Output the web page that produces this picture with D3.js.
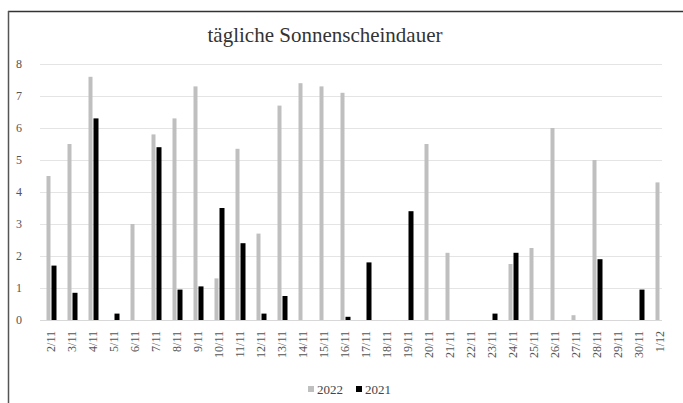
<!doctype html>
<html>
<head>
<meta charset="utf-8">
<style>
  body { margin: 0; background: #fff; }
  svg text { font-family: "Liberation Serif", "Times New Roman", "DejaVu Serif", serif !important; }
  .grid line { stroke: #e4e4e4; }
  .axis text { fill: #555; }
</style>
<script src="https://d3js.org/d3.v7.min.js"></script>
</head>
<body>
<script>

  var days = ["2/11","3/11","4/11","5/11","6/11","7/11","8/11","9/11","10/11","11/11",
              "12/11","13/11","14/11","15/11","16/11","17/11","18/11","19/11","20/11","21/11",
              "22/11","23/11","24/11","25/11","26/11","27/11","28/11","29/11","30/11","1/12"];
  var sun2022 = [4.5, 5.5, 7.6, 0, 3.0, 5.8, 6.3, 7.3, 1.3, 5.35,
                 2.7, 6.7, 7.4, 7.3, 7.1, 0, 0, 0, 5.5, 2.1,
                 0, 0, 1.75, 2.25, 6.0, 0.15, 5.0, 0, 0, 4.3];
  var sun2021 = [1.7, 0.85, 6.3, 0.2, 0, 5.4, 0.95, 1.05, 3.5, 2.4,
                 0.2, 0.75, 0, 0, 0.1, 1.8, 0, 3.4, 0, 0,
                 0, 0.2, 2.1, 0, 0, 0, 1.9, 0, 0.95, 0];
  var yTicks = [0, 1, 2, 3, 4, 5, 6, 7, 8];

  var W = 683, H = 403;

  var svg = d3.select("body").append("svg")
    .attr("width", W)
    .attr("height", H);

  // frame (top + left edge of the scan)
  svg.append("line").attr("x1", 8).attr("x2", W).attr("y1", 11.5).attr("y2", 11.5)
    .attr("stroke", "#333").attr("stroke-width", 1.5);
  svg.append("line").attr("x1", 8.5).attr("x2", 8.5).attr("y1", 11).attr("y2", H)
    .attr("stroke", "#555").attr("stroke-width", 1.5);

  var x = d3.scaleBand().domain(days).range([40.5, 670.5]).padding(0);
  var y = d3.scaleLinear().domain([0, 8]).range([320, 64]);

  svg.append("text")
    .attr("x", 325)
    .attr("y", 42)
    .attr("text-anchor", "middle")
    .attr("font-size", "21px")
    .attr("fill", "#333")
    .text("tägliche Sonnenscheindauer");

  // gridlines
  svg.append("g")
    .attr("class", "grid")
    .selectAll("line")
    .data(yTicks.slice(1))
    .enter().append("line")
    .attr("x1", 40).attr("x2", 662)
    .attr("y1", function(d) { return y(d) + 0.5; })
    .attr("y2", function(d) { return y(d) + 0.5; });

  svg.append("line")
    .attr("x1", 40).attr("x2", 662)
    .attr("y1", y(0) + 0.5).attr("y2", y(0) + 0.5)
    .attr("stroke", "#d8d8d8");

  // y labels
  var yAxis = svg.append("g")
    .attr("class", "axis")
    .attr("transform", "translate(22,0)")
    .call(d3.axisLeft(y).tickValues(yTicks).tickSize(0).tickPadding(0));
  yAxis.select(".domain").remove();
  yAxis.selectAll("text").attr("font-size", "12px");

  // x labels (rotated)
  var xAxis = svg.append("g")
    .attr("class", "axis")
    .attr("transform", "translate(0,331)")
    .call(d3.axisBottom(x).tickSize(0).tickPadding(0));
  xAxis.select(".domain").remove();
  xAxis.selectAll("text")
    .attr("font-size", "12px")
    .attr("transform", "rotate(-90)")
    .attr("x", 0)
    .attr("y", 0)
    .attr("dy", "0.35em")
    .attr("text-anchor", "end");

  // bars
  svg.append("g").selectAll("rect")
    .data(sun2022)
    .enter().append("rect")
    .attr("x", function(d, i) { return x(days[i]) + x.bandwidth() / 2 - 4.5; })
    .attr("y", function(d) { return y(d); })
    .attr("width", 4)
    .attr("height", function(d) { return y(0) - y(d); })
    .attr("fill", "#bfbfbf");

  svg.append("g").selectAll("rect")
    .data(sun2021)
    .enter().append("rect")
    .attr("x", function(d, i) { return x(days[i]) + x.bandwidth() / 2 + 0.5; })
    .attr("y", function(d) { return y(d); })
    .attr("width", 5)
    .attr("height", function(d) { return y(0) - y(d); })
    .attr("fill", "#000");

  // legend
  var legend = [["2022", "#bfbfbf", 308], ["2021", "#000", 356]];
  var lg = svg.append("g").selectAll("g")
    .data(legend)
    .enter().append("g")
    .attr("transform", function(d) { return "translate(" + d[2] + ",394)"; });
  lg.append("rect").attr("x", 0).attr("y", -8).attr("width", 6).attr("height", 6)
    .attr("fill", function(d) { return d[1]; });
  lg.append("text").attr("x", 9).attr("y", 0)
    .attr("font-size", "13px").attr("fill", "#444")
    .text(function(d) { return d[0]; });

</script>
</body>
</html>
